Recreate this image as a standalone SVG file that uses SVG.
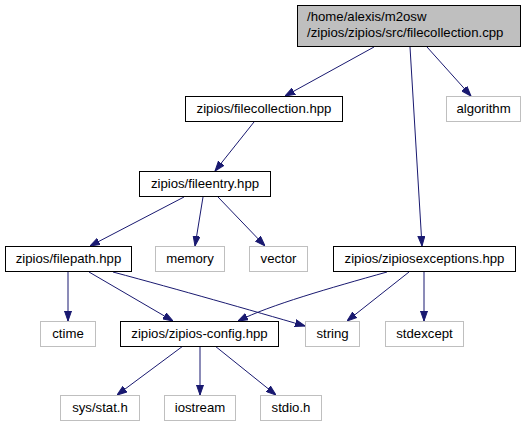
<svg xmlns="http://www.w3.org/2000/svg" width="527" height="427" viewBox="0 0 527 427">
<defs>
<style>
.n rect{fill:#ffffff;stroke:#000000;stroke-width:1}
.g rect{fill:#ffffff;stroke:#bfbfbf;stroke-width:1}
.m rect{fill:#bfbfbf;stroke:#000000;stroke-width:1}
text{font-family:"Liberation Sans",Arial,Helvetica,sans-serif;font-size:13.2px;fill:#000000}
.c{text-anchor:middle}
#edges line,#edges path{stroke:#191970;stroke-width:1;fill:none;marker-end:url(#ah)}
</style>
<marker id="ah" markerUnits="userSpaceOnUse" markerWidth="10" markerHeight="8" refX="10" refY="3.5" orient="auto" viewBox="0 0 10 7">
<path d="M0,0 L10,3.5 L0,7 z" fill="#191970" stroke="#191970" stroke-width="1"/>
</marker>
</defs>
<rect width="527" height="427" fill="#ffffff"/>
<g id="edges">
<line x1="374" y1="47" x2="285" y2="96"/>
<line x1="427" y1="47" x2="471" y2="96"/>
<line x1="410" y1="47" x2="422" y2="246"/>
<line x1="254" y1="122" x2="215" y2="171"/>
<line x1="184" y1="197" x2="90" y2="246"/>
<line x1="203" y1="197" x2="195" y2="246"/>
<line x1="218" y1="197" x2="265" y2="246"/>
<line x1="68" y1="272" x2="68" y2="321"/>
<line x1="89" y1="272" x2="173" y2="321"/>
<path d="M113,272 C180,290 250,310 305,326"/>
<path d="M387,272 C330,288 270,305 238,321"/>
<line x1="409" y1="272" x2="347" y2="321"/>
<line x1="424" y1="272" x2="424" y2="321"/>
<line x1="183" y1="346" x2="117" y2="395"/>
<line x1="200" y1="346" x2="200" y2="395"/>
<line x1="215" y1="346" x2="276" y2="395"/>
</g>
<g id="node-main" class="m">
<rect x="297.5" y="5.5" width="223" height="41"/>
<text x="307" y="21">/home/alexis/m2osw</text>
<text x="307" y="37">/zipios/zipios/src/filecollection.cpp</text>
</g>
<g id="node-filecollection" class="n">
<rect x="185.5" y="96.5" width="157" height="25"/>
<text class="c" x="264" y="113">zipios/filecollection.hpp</text>
</g>
<g id="node-algorithm" class="g">
<rect x="446.5" y="96.5" width="74" height="25"/>
<text class="c" x="483.5" y="113">algorithm</text>
</g>
<g id="node-fileentry" class="n">
<rect x="139.5" y="171.5" width="131" height="25"/>
<text class="c" x="205" y="188">zipios/fileentry.hpp</text>
</g>
<g id="node-filepath" class="n">
<rect x="5.5" y="246.5" width="126" height="25"/>
<text class="c" x="68.5" y="263">zipios/filepath.hpp</text>
</g>
<g id="node-memory" class="g">
<rect x="155.5" y="246.5" width="69" height="25"/>
<text class="c" x="190" y="263">memory</text>
</g>
<g id="node-vector" class="g">
<rect x="249.5" y="246.5" width="58" height="25"/>
<text class="c" x="278.5" y="263">vector</text>
</g>
<g id="node-zipiosexceptions" class="n">
<rect x="333.5" y="246.5" width="182" height="25"/>
<text class="c" x="424.5" y="263">zipios/zipiosexceptions.hpp</text>
</g>
<g id="node-ctime" class="g">
<rect x="40.5" y="321.5" width="55" height="25"/>
<text class="c" x="68" y="338">ctime</text>
</g>
<g id="node-config" class="n">
<rect x="120.5" y="321.5" width="158" height="25"/>
<text class="c" x="199.5" y="338">zipios/zipios-config.hpp</text>
</g>
<g id="node-string" class="g">
<rect x="305.5" y="321.5" width="54" height="25"/>
<text class="c" x="332.5" y="338">string</text>
</g>
<g id="node-stdexcept" class="g">
<rect x="385.5" y="321.5" width="78" height="25"/>
<text class="c" x="424.5" y="338">stdexcept</text>
</g>
<g id="node-sysstat" class="g">
<rect x="60.5" y="395.5" width="79" height="25"/>
<text class="c" x="100" y="412">sys/stat.h</text>
</g>
<g id="node-iostream" class="g">
<rect x="164.5" y="395.5" width="71" height="25"/>
<text class="c" x="200" y="412">iostream</text>
</g>
<g id="node-stdio" class="g">
<rect x="260.5" y="395.5" width="61" height="25"/>
<text class="c" x="291" y="412">stdio.h</text>
</g>
</svg>
